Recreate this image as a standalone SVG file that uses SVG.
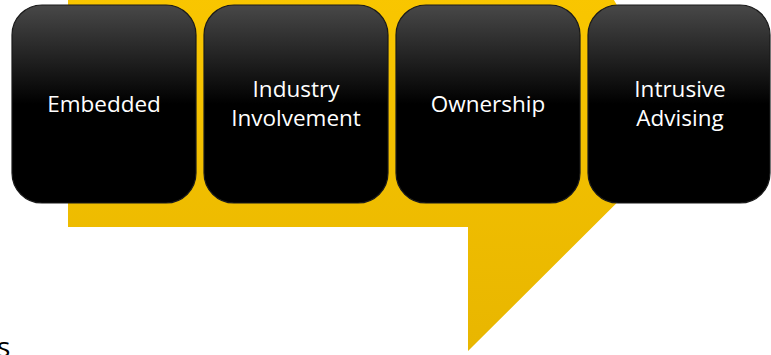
<svg xmlns="http://www.w3.org/2000/svg" width="771" height="355" viewBox="0 0 771 355">
  <defs>
    <linearGradient id="yg" x1="0" y1="0" x2="0" y2="1">
      <stop offset="0" stop-color="#F9C600"/>
      <stop offset="1" stop-color="#E8B600"/>
    </linearGradient>
    <linearGradient id="bg" x1="0" y1="0" x2="0" y2="1">
      <stop offset="0" stop-color="#484848"/>
      <stop offset="0.5" stop-color="#000000"/>
      <stop offset="1" stop-color="#000000"/>
    </linearGradient>
  </defs>
  <style>
    .box { fill: url(#bg); stroke: #1a1a1a; stroke-width: 1.2; }
    .lbl { fill: #ffffff; font-family: "Open Sans", "Noto Sans", sans-serif; font-size: 22.5px; text-anchor: middle; }
  </style>
  <polygon id="callout" points="68,-5 611,-5 690,130 468,351 468,227 68,227" fill="url(#yg)"/>
  <g id="connectors"></g>
  <g id="node-embedded">
    <rect class="box" x="12" y="5" width="184" height="198" rx="30" ry="30"/>
    <text class="lbl" x="104" y="112">Embedded</text>
  </g>
  <g id="node-industry">
    <rect class="box" x="204" y="5" width="184" height="198" rx="30" ry="30"/>
    <text class="lbl" x="296" y="97">Industry</text>
    <text class="lbl" x="296" y="126">Involvement</text>
  </g>
  <g id="node-ownership">
    <rect class="box" x="396" y="5" width="184" height="198" rx="30" ry="30"/>
    <text class="lbl" x="488" y="112">Ownership</text>
  </g>
  <g id="node-intrusive">
    <rect class="box" x="588" y="5" width="182" height="198" rx="30" ry="30"/>
    <text class="lbl" x="680" y="97">Intrusive</text>
    <text class="lbl" x="680" y="126">Advising</text>
  </g>
  <text x="-3" y="357" font-family="Open Sans, sans-serif" font-size="28" fill="#000000">s</text>
</svg>
